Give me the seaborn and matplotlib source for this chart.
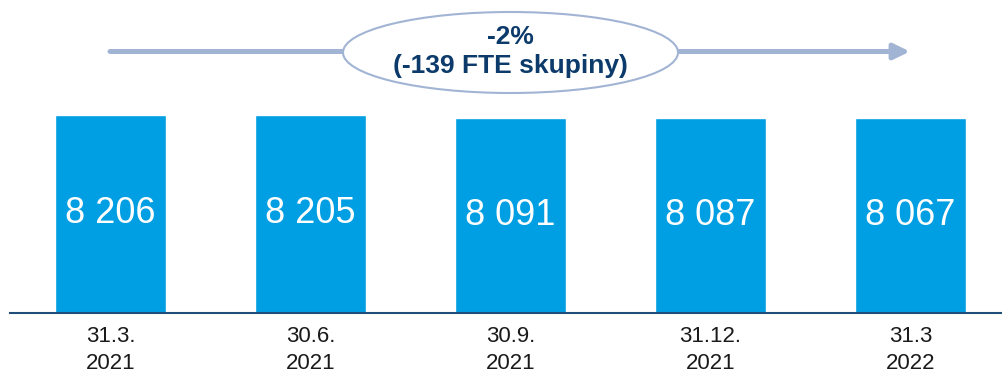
import matplotlib
matplotlib.use("Agg")
import matplotlib.pyplot as plt
from matplotlib.patches import Ellipse, FancyArrowPatch
from matplotlib.transforms import Affine2D
import seaborn as sns
import pandas as pd

# Headcount (FTE) at each reporting date
dates = ["31.3.\n2021", "30.6.\n2021", "30.9.\n2021", "31.12.\n2021", "31.3\n2022"]
fte = [8206, 8205, 8091, 8087, 8067]
change_pct = "-2%"
change_fte = "(-139 FTE skupiny)"

BAR_COLOR = "#009FE3"
AXIS_COLOR = "#1F4E79"
NOTE_COLOR = "#0B3A6B"
ARROW_COLOR = "#A2B4D4"

sns.set_theme(style="white")
plt.rcParams["font.family"] = ["Liberation Sans", "DejaVu Sans"]

W, H = 1002, 377
fig = plt.figure(figsize=(W / 100, H / 100), dpi=100)
ax = fig.add_axes([10 / W, (H - 312.5) / H, (W - 10) / W, 312.5 / H])

df = pd.DataFrame({"date": dates, "fte": fte})
sns.barplot(data=df, x="date", y="fte", color=BAR_COLOR, width=0.555,
            saturation=1, ax=ax)

ax.set_xlim(-0.5025, 4.4575)
ax.set_ylim(0, max(fte) * 312.5 / 197.5)

# value labels centred inside the bars
labels = [f"{v:,}".replace(",", " ") for v in fte]
ax.bar_label(ax.containers[0], labels=labels, label_type="center",
             color="white", fontsize=26)

for side in ("top", "left", "right"):
    ax.spines[side].set_visible(False)
ax.spines["bottom"].set_color(AXIS_COLOR)
ax.spines["bottom"].set_linewidth(1.5)
ax.set_xlabel("")
ax.set_ylabel("")
ax.set_yticks([])
ax.tick_params(axis="x", length=0, pad=10, labelsize=16, labelcolor="#1a1a1a")
for t in ax.get_xticklabels():
    t.set_linespacing(1.35)

# change annotation: arrow behind an ellipse with the summary text
pix = Affine2D().scale(1 / W, -1 / H).translate(0, 1) + fig.transFigure
arrow = FancyArrowPatch((110, 51.5), (910, 51.5), transform=pix,
                        arrowstyle="-|>,head_length=9.5,head_width=4.6",
                        mutation_scale=1, shrinkA=0, shrinkB=0,
                        color=ARROW_COLOR, linewidth=3.6, zorder=1)
fig.add_artist(arrow)
ell = Ellipse((510.5, 52.5), 335, 81, transform=pix, facecolor="white",
              edgecolor=ARROW_COLOR, linewidth=1.5, zorder=2)
fig.add_artist(ell)
fig.text(510.5 / W, 1 - 37.5 / H, change_pct, ha="center", va="center",
         fontsize=19, fontweight="bold", color=NOTE_COLOR, zorder=3)
fig.text(510.5 / W, 1 - 66.5 / H, change_fte, ha="center", va="center",
         fontsize=19, fontweight="bold", color=NOTE_COLOR, zorder=3)

fig.savefig("out.png", dpi=100, facecolor="white")
